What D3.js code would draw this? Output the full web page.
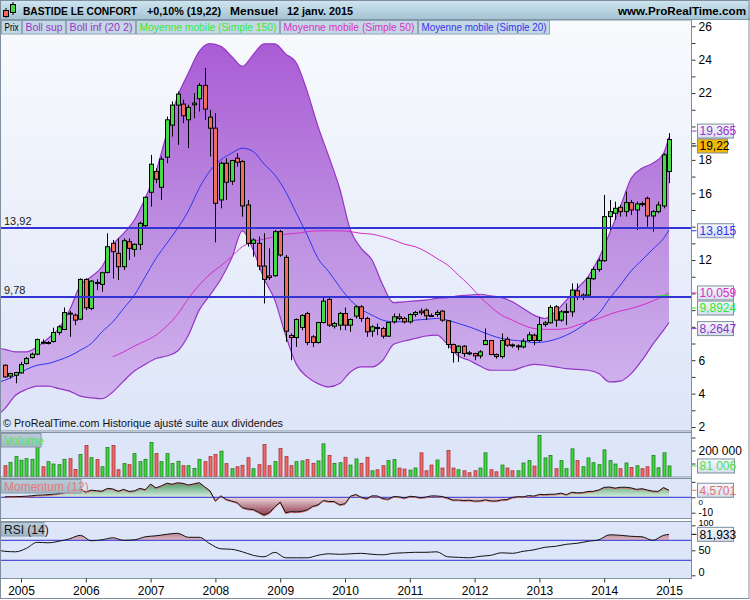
<!DOCTYPE html>
<html><head><meta charset="utf-8">
<script src="https://cdn.jsdelivr.net/npm/d3@7"></script>
<style>
body{margin:0;background:#fff}
svg{display:block;font-family:"Liberation Sans",Arial,sans-serif}
</style>
</head><body>
<svg id="c" width="750" height="600"></svg>
<script>
// ---------- DATA (monthly, Oct 2004 .. Jan 2015) ----------
const years = ["2005","2006","2007","2008","2009","2010","2011","2012","2013","2014","2015"];
const yearIdx = [3,15,27,39,51,63,75,87,99,111,123];

const open = [5.7,5.05,5.1,5.24,5.8,6.16,6.36,7.08,7.02,7.12, 7.66,7.84,8.82,8.7,8.46,10.84,9.1,10.66,10.54,11.26,
 13.0,12.4,11.6,13.1,12.64,12.94,14.06,16.06,17.3,16.36, 18.16,20.08,21.28,21.34,20.4,21.3,21.66,22.46,20.56,19.9,
 15.6,17.8,16.72,18.1,17.9,15.3,13.0,13.0,11.64,11.05, 11.06,13.7,12.16,7.48,7.36,7.96,8.8,7.4,7.06,8.26,
 9.64,8.04,8.1,8.8,8.1,8.64,9.2,8.5,7.74,7.96, 7.9,7.44,8.3,8.6,8.5,8.3,8.74,8.94,9.0,8.68,
 8.74,8.94,8.36,6.94,6.46,6.84,6.44,6.4,6.26,6.94, 7.18,6.34,6.22,7.26,6.92,6.84,6.8,7.18,7.5,7.18,
 8.14,8.24,9.2,8.4,8.88,8.9,10.16,9.76,9.9,10.88, 11.44,11.96,14.6,14.8,15.16,14.9,15.44,15.0,15.38,15.7,
 14.64,14.9,15.24,17.3];
const high = [5.75,5.25,5.3,5.9,6.2,6.45,7.3,7.25,7.15,7.95, 8.1,9.16,8.95,8.8,10.9,10.9,10.8,10.85,11.3,13.6,
 13.2,13.3,13.3,13.3,13.0,14.3,15.8,18.3,17.5,18.2, 20.6,21.5,22.1,21.6,21.3,22.0,22.6,23.5,21.0,20.8,
 17.9,18.1,18.0,18.4,18.0,15.6,13.3,13.4,13.6,12.7, 13.8,13.8,12.3,7.6,8.5,8.75,8.9,7.5,8.3,9.8,
 9.8,8.3,8.9,9.16,8.5,9.3,9.3,8.6,8.1,8.2, 8.0,8.3,8.8,8.8,8.6,8.8,8.95,9.1,9.1,8.8,
 9.0,9.0,8.4,7.0,6.9,6.9,6.55,6.45,6.6,7.9, 7.2,6.4,7.6,7.4,7.0,6.95,7.3,7.7,7.6,8.6,
 8.35,9.3,9.3,9.0,9.4,10.6,10.6,10.0,11.0,11.6, 12.1,15.9,15.6,15.5,15.3,16.1,15.6,15.5,15.5,15.8,
 15.0,15.5,18.4,19.6];
const low = [4.95,4.9,4.62,5.2,5.75,6.1,6.3,6.95,6.95,7.05, 7.5,7.8,7.4,8.1,8.4,9.0,9.0,10.2,10.1,11.2,
 10.9,10.8,11.4,12.0,12.2,12.6,13.9,15.2,16.6,15.6, 17.8,19.4,18.9,20.2,18.7,20.5,20.9,20.4,18.2,13.06,
 15.1,15.6,16.5,17.6,14.6,12.8,12.2,11.4,9.4,10.8, 11.0,12.2,7.1,6.0,6.8,7.8,6.9,6.8,7.0,8.2,
 8.0,7.9,7.8,7.8,7.7,8.5,8.3,7.4,7.4,7.5, 7.3,7.4,8.2,8.4,8.2,8.2,8.6,8.7,8.4,8.6,
 8.6,8.3,6.7,5.86,5.9,6.2,6.3,6.0,6.1,6.9, 6.3,6.1,6.1,6.8,6.75,6.6,6.7,7.1,6.9,7.1,
 8.0,8.2,8.0,8.3,8.1,8.6,9.6,9.6,9.8,10.8, 11.3,11.9,13.8,14.4,14.6,14.6,14.7,13.8,15.2,14.0,
 13.7,14.8,15.1,16.6];
const close = [5.0,5.2,5.26,5.74,6.1,6.36,7.24,7.02,7.06,7.66, 8.0,8.86,8.78,8.4,10.84,9.14,10.74,10.62,11.24,12.8,
 12.5,11.6,13.16,12.7,12.94,14.2,15.76,17.74,16.84,18.04, 20.4,21.28,21.94,20.64,21.14,21.4,22.46,21.04,19.9,15.4,
 17.8,16.66,17.96,17.86,15.24,13.0,13.2,11.64,10.84,10.95, 13.7,12.3,7.74,7.36,8.44,8.68,7.06,7.06,8.26,9.54,
 8.1,8.2,8.8,8.1,8.44,9.2,8.5,7.7,8.0,7.92, 7.44,8.26,8.6,8.5,8.3,8.74,8.86,8.84,8.66,8.64,
 8.86,8.4,6.94,6.46,6.84,6.4,6.4,6.26,6.5,7.18, 6.34,6.22,7.18,6.9,6.88,6.86,7.14,7.52,7.18,8.14,
 8.24,9.16,8.4,8.9,8.92,10.2,9.76,9.9,10.9,11.44, 11.96,14.6,14.9,15.1,14.9,15.44,15.0,15.36,15.34,14.64,
 14.9,15.3,18.3,19.22];
const volumeK = [83,109,153,125,137,132,233,75,114,96, 91,132,137,54,169,239,145,130,75,223,
 239,52,99,91,176,114,132,262,176,114, 176,99,117,83,83,62,132,114,153,169,
 195,99,60,75,86,145,60,91,246,83, 114,215,153,83,114,120,130,101,120,251,
 161,101,106,148,88,135,101,148,44,52, 83,122,130,65,57,49,65,182,44,88,
 127,65,200,65,52,44,29,44,65,182, 52,36,88,65,44,44,104,122,80,316,
 143,161,60,122,60,213,122,75,143,106, 91,205,122,96,60,104,70,83,60,75,
 161,67,182,81];
const momentum = [0.3,0.4,0.4,0.5,0.7,1.0,1.4,1.5,1.7,2.0, 2.4,3.0,3.78,3.2,5.58,3.4,4.64,4.26,4.0,5.78,
 5.44,3.94,5.16,3.84,4.16,5.8,4.92,8.6,6.1,7.42, 9.16,8.48,9.44,9.04,7.98,8.7,9.52,6.84,4.14,-2.34,
 0.96,-1.38,-2.44,-3.42,-6.7,-7.64,-7.94,-9.76,-11.62,-10.09, -6.2,-3.1,-10.06,-9.3,-9.52,-9.18,-8.18,-5.94,-4.94,-2.1,
 -2.74,-2.75,-4.9,-4.2,0.7,1.84,0.06,-0.98,0.94,0.86, -0.82,-1.28,0.5,0.3,-0.5,0.64,0.42,-0.36,0.16,0.94,
 0.86,0.48,-0.5,-1.8,-1.76,-2.1,-1.9,-2.48,-2.36,-1.66, -2.32,-2.42,-1.68,-1.5,-0.06,0.4,0.3,1.12,0.78,1.88,
 1.74,1.98,2.06,2.68,1.74,3.3,2.88,3.04,3.76,3.92, 4.78,6.46,6.66,5.94,6.5,6.54,6.08,5.16,5.58,4.74,
 4.0,3.86,6.34,4.57];

// indicator curves, read every second month (+ the month before the first candle and the last month)
const sampleIdx = [-1,0,2,4,6,8,10,12,14,16,18,20,22,24,26,28,30,32,34,36,38,40,42,44,46,48,50,52,54,56,58,
 60,62,64,66,68,70,72,74,76,78,80,82,84,86,88,90,92,94,96,98,100,102,104,106,108,110,112,114,116,118,120,122,123];
const bollSup = [6.7,6.65,6.5,6.5,6.8,7.3,7.9,9.0,10.5,11.0,11.6, 12.9,13.6,14.4,15.7,17.3,19.6,21.8,23.2,24.5,24.96,
 24.8,24.2,23.6,24.3,24.95,24.95,24.35,23.8,22.1,20.0, 18.2,16.3,13.8,12.7,12.0,10.5,9.45,9.5,9.55,9.6,
 9.7,9.75,9.85,9.9,9.95,9.85,9.75,9.5,9.1,8.7, 8.5,8.9,9.6,10.3,11.0,12.1,13.6,15.2,16.9,17.5,
 17.8,18.4,19.36];
const bollInf = [2.8,3.1,3.9,4.25,4.45,4.45,4.3,4.15,3.85,3.75,3.7, 4.1,4.75,5.35,5.75,6.1,6.25,6.55,7.5,9.0,9.9,
 10.85,12.1,13.75,12.6,10.9,9.6,7.5,5.75,5.0,4.6, 4.4,4.6,5.3,5.6,5.6,6.0,6.95,7.15,7.3,7.45,
 7.5,6.95,6.25,6.0,5.65,5.4,5.4,5.4,5.6,5.75, 5.7,5.6,5.5,5.45,5.4,5.2,4.7,4.75,5.2,6.0,
 6.95,7.8,8.26];
const ma20 = [4.7,4.8,5.1,5.45,5.7,5.8,6.0,6.25,6.6,7.0,7.7, 8.3,9.1,9.9,11.0,12.1,13.0,13.9,14.95,16.3,17.35,
 18.0,18.4,18.7,18.5,17.75,17.1,16.1,14.8,13.5,12.1, 11.3,10.4,9.6,9.05,8.7,8.4,8.3,8.3,8.4,8.45,
 8.5,8.4,8.2,8.0,7.75,7.5,7.3,7.2,7.15,7.05, 7.1,7.25,7.5,7.85,8.3,8.8,9.7,10.5,11.35,12.0,
 12.65,13.3,13.8];
const ma50 = [null,null,null,null,null,null,null,null,null,null,null, 6.2,6.5,6.85,7.15,7.5,8.05,8.75,9.7,10.5,11.15,
 11.65,12.2,12.8,13.1,13.25,13.4,13.55,13.6,13.7,13.75, 13.75,13.75,13.7,13.6,13.55,13.4,13.2,12.95,12.8,12.5,
 12.1,11.7,11.1,10.5,9.8,9.2,8.7,8.4,8.1,7.9, 7.85,7.85,7.9,8.1,8.3,8.5,8.75,8.95,9.1,9.3,
 9.55,9.85,10.05];
const rsi = [50,48,47,54,66,65,68,73,80,69,71, 75,70,71,77,79,82,84,76,76,63,
 53,52,47,40,37,46,35,35,35,40, 43,42,43,44,42,41,44,45,46,46,
 47,37,36,35,38,40,45,44,48,51, 56,58,62,64,68,71,81,80,78,77,
 70,80,81.9];
const ma150Idx = [120,121,122,123];
const ma150 = [9.80,9.83,9.86,9.89];
const hLevels = [13.92, 9.78];
const hLabels = ["13,92","9,78"];

// ---------- SCALES ----------
const x = d3.scaleLinear().domain([0,123]).range([4.8,669]);
const yP = d3.scaleLinear().domain([2,26]).range([427,26.3]);
const yV = d3.scaleLinear().domain([0,300000]).range([476.5,437.5]);
const yM = d3.scaleLinear().domain([-10,0]).range([512.7,497.3]);
const yR = d3.scaleLinear().domain([0,100]).range([575.3,525.3]);

const AX = 691.5; // separator of right axis
const svg = d3.select("#c");
const defs = svg.append("defs");
function lg(id, stops, y1, y2, bbox){
  const g = defs.append("linearGradient").attr("id",id).attr("x1",0).attr("x2",0).attr("y1",y1).attr("y2",y2);
  if(!bbox) g.attr("gradientUnits","userSpaceOnUse");
  stops.forEach(s=>g.append("stop").attr("offset",s[0]).attr("stop-color",s[1]));
}
lg("hdr",[[0,"#d0e6f0"],[1,"#a3c2d2"]],0,20);
lg("mainbg",[[0,"#f8fafd"],[1,"#dde5f8"]],20,431);
lg("band",[[0,"#a95ad4"],[0.55,"#bf93e2"],[1,"#d4baf0"]],35,425);
lg("mpos",[[0,"#36925a"],[1,"#d8ede0"]],481,497.3);
lg("mneg",[[0,"#edd6dc"],[1,"#8a3242"]],497.3,516);
lg("rpos",[[0,"#96505e"],[1,"#dcb9c4"]],526,540);
lg("lbl",[[0,"#f6f8fc"],[1,"#d5dfec"]],0,1,true);
lg("tag",[[0,"#b9cbd8"],[1,"#a3b8c8"]],0,1,true);

defs.append("clipPath").attr("id","cm").append("rect").attr("x",1).attr("y",20).attr("width",AX-1).attr("height",411);
defs.append("clipPath").attr("id","cpos").append("rect").attr("x",1).attr("y",478).attr("width",AX-1).attr("height",yM(0)-478);
defs.append("clipPath").attr("id","cneg").append("rect").attr("x",1).attr("y",yM(0)).attr("width",AX-1).attr("height",518-yM(0));
defs.append("clipPath").attr("id","crsi").append("rect").attr("x",1).attr("y",521).attr("width",AX-1).attr("height",yR(70)-521);
defs.append("clipPath").attr("id","clow").append("rect").attr("x",1).attr("y",432).attr("width",AX-1).attr("height",147);

// ---------- HEADER ----------
svg.append("rect").attr("x",0).attr("y",0).attr("width",750).attr("height",20).attr("fill","url(#hdr)");
svg.append("line").attr("x1",0).attr("x2",750).attr("y1",19.5).attr("y2",19.5).attr("stroke","#7e98a8");
const ic = svg.append("g");
ic.append("line").attr("x1",6).attr("x2",6).attr("y1",8).attr("y2",18).attr("stroke","#000");
ic.append("rect").attr("x",3.5).attr("y",10.5).attr("width",5).attr("height",6).attr("fill","#ee6a5e").attr("stroke","#000");
ic.append("line").attr("x1",13).attr("x2",13).attr("y1",2).attr("y2",15).attr("stroke","#000");
ic.append("rect").attr("x",10.5).attr("y",4.5).attr("width",5).attr("height",8).attr("fill","#45d845").attr("stroke","#000");
const hdr = [["BASTIDE LE CONFORT",23,114],["+0,10% (19,22)",147,74],["Mensuel",230,48],["12 janv. 2015",287,66],["www.ProRealTime.com",618,128]];
hdr.forEach(h=>svg.append("text").attr("x",h[1]).attr("y",14.5).attr("font-size",10).attr("font-weight","bold")
  .attr("textLength",h[2]).attr("lengthAdjust","spacingAndGlyphs").attr("fill","#000").text(h[0]));

// ---------- MAIN PANEL ----------
svg.append("rect").attr("x",1).attr("y",20).attr("width",AX-1).attr("height",411).attr("fill","url(#mainbg)");
const gm = svg.append("g").attr("clip-path","url(#cm)");
const S = sampleIdx.map((d,k)=>({i:d,up:bollSup[k],lo:bollInf[k],m20:ma20[k],m50:ma50[k],r:rsi[k]}));
gm.append("path").datum(S).attr("fill","url(#band)")
  .attr("d",d3.area().x(d=>x(d.i)).y0(d=>yP(d.lo)).y1(d=>yP(d.up)).curve(d3.curveMonotoneX));
const lineOf = key => d3.line().defined(d=>d[key]!=null).x(d=>x(d.i)).y(d=>yP(d[key])).curve(d3.curveMonotoneX);
[["up","#9535c8",1.2],["lo","#9535c8",1.2],["m20","#2a36ee",1],["m50","#d22ec8",1]].forEach(s=>
  gm.append("path").datum(S).attr("fill","none").attr("stroke",s[1]).attr("stroke-width",s[2]).attr("d",lineOf(s[0])));
gm.append("path").datum(ma150Idx.map((d,k)=>({i:d,v:ma150[k]}))).attr("fill","none").attr("stroke","#3ce03c").attr("stroke-width",1.5)
  .attr("d",d3.line().x(d=>x(d.i)).y(d=>yP(d.v)));

// candles
const C = close.map((c,i)=>({i,o:open[i],h:high[i],l:low[i],c}));
const cg = gm.append("g");
cg.selectAll("line").data(C).join("line").attr("x1",d=>Math.round(x(d.i))+0.5).attr("x2",d=>Math.round(x(d.i))+0.5)
  .attr("y1",d=>yP(d.h)).attr("y2",d=>yP(d.l)).attr("stroke","#000").attr("stroke-width",1);
cg.selectAll("rect").data(C).join("rect").attr("x",d=>Math.round(x(d.i))-1.5).attr("width",4)
  .attr("y",d=>yP(Math.max(d.o,d.c))).attr("height",d=>Math.max(1,Math.abs(yP(d.o)-yP(d.c))))
  .attr("fill",d=>d.c>=d.o?"#46da46":"#ef6d60").attr("stroke","#000").attr("stroke-width",1);

// horizontal levels
hLevels.forEach((v,k)=>{
  gm.append("line").attr("x1",1).attr("x2",AX).attr("y1",yP(v)).attr("y2",yP(v)).attr("stroke","#3434d4").attr("stroke-width",2);
  svg.append("text").attr("x",4).attr("y",yP(v)-3).attr("font-size",11).attr("fill","#222").text(hLabels[k]);
});
svg.append("text").attr("x",3).attr("y",427).attr("font-size",11).attr("fill","#111")
  .attr("textLength",280).attr("lengthAdjust","spacingAndGlyphs").text("© ProRealTime.com Historique ajusté suite aux dividendes");

// legend
const legend = [["Prix","#000"],["Boll sup","#9a33cc"],["Boll inf (20 2)","#9a33cc"],["Moyenne mobile (Simple 150)","#38e838"],["Moyenne mobile (Simple 50)","#d633c8"],["Moyenne mobile (Simple 20)","#3535f0"]];
const legX = [1.5,22.5,66.5,136.5,280.5,418.5,550.5];
legend.forEach((l,k)=>{
  svg.append("rect").attr("x",legX[k]).attr("y",20.5).attr("width",legX[k+1]-legX[k]-1).attr("height",13.5)
    .attr("fill","#c4d7e4").attr("stroke","#8ea6b6");
  svg.append("text").attr("x",legX[k]+3).attr("y",31.2).attr("font-size",11.5).attr("fill",l[1])
    .attr("textLength",legX[k+1]-legX[k]-7).attr("lengthAdjust","spacingAndGlyphs").text(l[0]);
});

// ---------- LOWER PANELS ----------
const panels = [[432.5,477],[478.5,518.5],[521.5,578.5]];
panels.forEach(p=>svg.append("rect").attr("x",1).attr("y",p[0]).attr("width",AX-1).attr("height",p[1]-p[0]).attr("fill","#dde5f8"));
const gl = svg.append("g").attr("clip-path","url(#clow)");

// volume
gl.append("g").selectAll("rect").data(C).join("rect")
  .attr("x",d=>Math.round(x(d.i))-1).attr("width",3)
  .attr("y",d=>yV(volumeK[d.i]*1000)).attr("height",d=>yV(0)-yV(volumeK[d.i]*1000))
  .attr("fill",d=>d.c>=d.o?"#3fd93f":"#ef6a6a").attr("stroke",d=>d.c>=d.o?"#1c7d1c":"#a83434").attr("stroke-width",0.8);

// momentum
const M = momentum.map((v,i)=>({i,v}));
const mArea = d3.area().x(d=>x(d.i)).y0(yM(0)).y1(d=>yM(d.v));
gl.append("path").datum(M).attr("clip-path","url(#cpos)").attr("fill","url(#mpos)").attr("d",mArea);
gl.append("path").datum(M).attr("clip-path","url(#cneg)").attr("fill","url(#mneg)").attr("d",mArea);
gl.append("line").attr("x1",1).attr("x2",AX).attr("y1",yM(0)).attr("y2",yM(0)).attr("stroke","#2f2fd0").attr("stroke-width",1);
gl.append("path").datum(M).attr("fill","none").attr("stroke","#e07070").attr("stroke-width",1)
  .attr("d",d3.line().x(d=>x(d.i)).y(d=>yM(d.v)+0.8));
gl.append("path").datum(M).attr("fill","none").attr("stroke","#111").attr("stroke-width",1)
  .attr("d",d3.line().x(d=>x(d.i)).y(d=>yM(d.v)));

// RSI
gl.append("path").datum(S).attr("clip-path","url(#crsi)").attr("fill","url(#rpos)")
  .attr("d",d3.area().x(d=>x(d.i)).y0(yR(70)).y1(d=>yR(d.r)).curve(d3.curveMonotoneX));
[70,30].forEach(v=>gl.append("line").attr("x1",1).attr("x2",AX).attr("y1",yR(v)).attr("y2",yR(v)).attr("stroke","#2f2fd0").attr("stroke-width",1));
gl.append("path").datum(S).attr("fill","none").attr("stroke","#111").attr("stroke-width",1)
  .attr("d",d3.line().x(d=>x(d.i)).y(d=>yR(d.r)).curve(d3.curveMonotoneX));

// panel borders
[[20,431]].concat(panels).forEach(p=>svg.append("rect").attr("x",0.5).attr("y",p[0]).attr("width",AX-0.5).attr("height",p[1]-p[0])
  .attr("fill","none").attr("stroke","#8193a3"));

// panel tags
[["Volume","#5be35b",40],["Momentum (12)","#e77a7a",80],["RSI (14)","#111",43]].forEach((t,k)=>{
  const y0 = panels[k][0]+1;
  svg.append("rect").attr("x",1).attr("y",y0).attr("width",t[2]).attr("height",13.5).attr("fill","url(#tag)").attr("stroke","#8a9cac");
  svg.append("text").attr("x",4).attr("y",y0+11).attr("font-size",12).attr("fill",t[1]).text(t[0]);
});

// value tags on the right (computed before the axes so covered tick labels are left out)
const tags = [
  [yP(19.365)-6,"19,365","#9a33cc","url(#lbl)",36],
  [yP(19.22)+6.5,"19,22","#000","#f2b705",30],
  [yP(13.815)+1,"13,815","#3535f0","url(#lbl)",36],
  [yP(10.059)+0.5,"10,059","#d633c8","url(#lbl)",36],
  [yP(9.8924)+12.8,"9,8924","#2ee82e","url(#lbl)",36],
  [yP(8.2647)+6.2,"8,2647","#8a33cc","url(#lbl)",36],
  [yV(81006),"81 006","#4fe04f","url(#lbl)",37],
  [yM(4.5701),"4,5701","#e27070","url(#lbl)",36],
  [yR(81.933),"81,933","#000","url(#lbl)",36]
];
const covered = yy => tags.some(t=>Math.abs(t[0]-yy)<10.5);

// ---------- AXES ----------
function styleAxis(g, fs){ g.select(".domain").remove(); g.selectAll("text").attr("font-size",fs||12).attr("fill","#000").attr("font-family","Liberation Sans, Arial, sans-serif"); g.selectAll("line").attr("stroke","#333"); }
svg.append("g").attr("transform",`translate(${AX},0)`)
  .call(d3.axisRight(yP).tickValues(d3.range(2,27,1)).tickFormat(v=>(v%2||covered(yP(v)))?"":v).tickSize(4).tickPadding(3)).call(styleAxis);
svg.append("g").attr("transform",`translate(${AX},0)`)
  .call(d3.axisRight(yV).tickValues([100000,200000,300000]).tickFormat(v=>v===200000?"200 000":"").tickSize(4).tickPadding(3)).call(styleAxis);
const gMo = svg.append("g").attr("transform",`translate(${AX},0)`)
  .call(d3.axisRight(yM).tickValues([-10,0,10]).tickFormat(v=>v===10?"":String(v)).tickSize(4).tickPadding(3)).call(styleAxis,10);
gMo.selectAll(".tick text").filter(v=>v===0).attr("font-size",8).attr("dy","0.89em");
gMo.selectAll(".tick text").filter(v=>v===-10).attr("dy","0.25em");
const gR = svg.append("g").attr("transform",`translate(${AX},0)`)
  .call(d3.axisRight(yR).tickValues([0,50,100]).tickFormat(v=>String(v)).tickSize(4).tickPadding(3)).call(styleAxis,11);
gR.selectAll(".tick text").filter(v=>v===100).attr("font-size",9).attr("dy","0.03em");
gR.selectAll(".tick text").filter(v=>v===0).attr("dy","0.05em");
svg.append("line").attr("x1",AX).attr("x2",AX).attr("y1",20).attr("y2",578.5).attr("stroke","#7f8f9f");
svg.append("g").attr("transform","translate(0,578.5)")
  .call(d3.axisBottom(x).tickValues(yearIdx).tickFormat((d,k)=>years[k]).tickSize(4).tickPadding(4)).call(styleAxis);

tags.forEach(t=>{
  svg.append("line").attr("x1",AX).attr("x2",AX+5).attr("y1",t[0]).attr("y2",t[0]).attr("stroke",t[2]);
  svg.append("rect").attr("x",697.5).attr("y",t[0]-7).attr("width",t[4]).attr("height",14).attr("fill",t[3]).attr("stroke","#7d8e9e");
  svg.append("text").attr("x",699.5).attr("y",t[0]+4.3).attr("font-size",12).attr("fill",t[2]).text(t[1]);
});

// outer border
svg.append("rect").attr("x",0.5).attr("y",0.5).attr("width",748.5).attr("height",598).attr("fill","none").attr("stroke","#7f8f9f");
</script>
</body></html>
